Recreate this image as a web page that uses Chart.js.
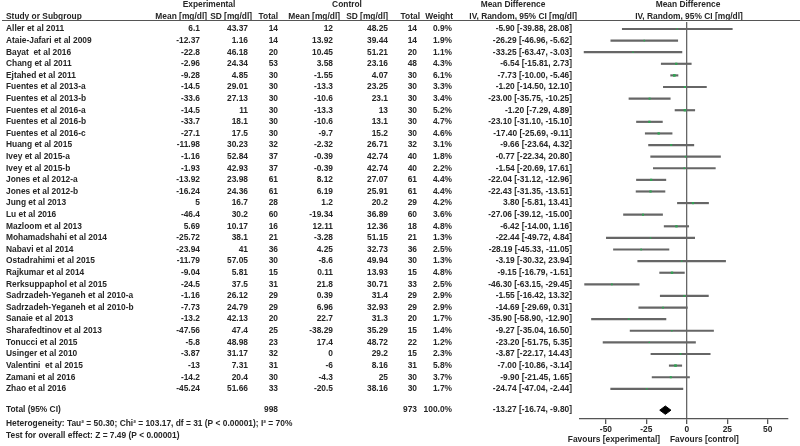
<!DOCTYPE html>
<html>
<head>
<meta charset="utf-8">
<script src="https://cdn.jsdelivr.net/npm/chart.js@4.4.1/dist/chart.umd.min.js"></script>
<style>
  html, body { margin: 0; padding: 0; background: #fff; }
  #wrap { width: 800px; height: 446px; }
</style>
</head>
<body>
<div id="wrap"><canvas id="forest" width="800" height="446"></canvas></div>
<script>
const studies = [
  "Aller et al 2011", "Ataie-Jafari et al 2009", "Bayat  et al 2016", "Chang et al 2011",
  "Ejtahed et al 2011", "Fuentes et al 2013-a", "Fuentes et al 2013-b", "Fuentes et al 2016-a",
  "Fuentes et al 2016-b", "Fuentes et al 2016-c", "Huang et al 2015", "Ivey et al 2015-a",
  "Ivey et al 2015-b", "Jones et al 2012-a", "Jones et al 2012-b", "Jung et al 2013",
  "Lu et al 2016", "Mazloom et al 2013", "Mohamadshahi et al 2014", "Nabavi et al 2014",
  "Ostadrahimi et al 2015", "Rajkumar et al 2014", "Rerksuppaphol et al 2015",
  "Sadrzadeh-Yeganeh et al 2010-a", "Sadrzadeh-Yeganeh et al 2010-b", "Sanaie et al 2013",
  "Sharafedtinov et al 2013", "Tonucci et al 2015", "Usinger et al 2010", "Valentini  et al 2015",
  "Zamani et al 2016", "Zhao et al 2016"
];
const expMean = [6.1, -12.37, -22.8, -2.96, -9.28, -14.5, -33.6, -14.5, -33.7, -27.1, -11.98, -1.16, -1.93, -13.92, -16.24, 5, -46.4, 5.69, -25.72, -23.94, -11.79, -9.04, -24.5, -1.16, -7.73, -13.2, -47.56, -5.8, -3.87, -13, -14.2, -45.24];
const expSD = [43.37, 1.16, 46.18, 24.34, 4.85, 29.01, 27.13, 11, 18.1, 17.5, 30.23, 52.84, 42.93, 23.98, 24.36, 16.7, 30.2, 10.17, 38.1, 41, 57.05, 5.81, 37.5, 26.12, 24.79, 42.13, 47.4, 48.98, 31.17, 7.31, 20.4, 51.66];
const expN = [14, 14, 20, 53, 30, 30, 30, 30, 30, 30, 32, 37, 37, 61, 61, 28, 60, 16, 21, 36, 30, 15, 31, 29, 29, 20, 25, 23, 32, 31, 30, 33];
const ctlMean = [12, 13.92, 10.45, 3.58, -1.55, -13.3, -10.6, -13.3, -10.6, -9.7, -2.32, -0.39, -0.39, 8.12, 6.19, 1.2, -19.34, 12.11, -3.28, 4.25, -8.6, 0.11, 21.8, 0.39, 6.96, 22.7, -38.29, 17.4, 0, -6, -4.3, -20.5];
const ctlSD = [48.25, 39.44, 51.21, 23.16, 4.07, 23.25, 23.1, 13, 13.1, 15.2, 26.71, 42.74, 42.74, 27.07, 25.91, 20.2, 36.89, 12.36, 51.15, 32.73, 49.94, 13.93, 30.71, 31.4, 32.93, 31.3, 35.29, 48.72, 29.2, 8.16, 25, 38.16];
const ctlN = [14, 14, 20, 48, 30, 30, 30, 30, 30, 30, 32, 40, 40, 61, 61, 29, 60, 18, 21, 36, 30, 15, 33, 29, 29, 20, 15, 22, 15, 31, 30, 30];
const weight = [0.9, 1.9, 1.1, 4.3, 6.1, 3.3, 3.4, 5.2, 4.7, 4.6, 3.1, 1.8, 2.2, 4.4, 4.4, 4.2, 3.6, 4.8, 1.3, 2.5, 1.3, 4.8, 2.5, 2.9, 2.9, 1.7, 1.4, 1.2, 2.3, 5.8, 3.7, 1.7];
const md = [-5.90, -26.29, -33.25, -6.54, -7.73, -1.20, -23.00, -1.20, -23.10, -17.40, -9.66, -0.77, -1.54, -22.04, -22.43, 3.80, -27.06, -6.42, -22.44, -28.19, -3.19, -9.15, -46.30, -1.55, -14.69, -35.90, -9.27, -23.20, -3.87, -7.00, -9.90, -24.74];
const ciLow = [-39.88, -46.96, -63.47, -15.81, -10.00, -14.50, -35.75, -7.29, -31.10, -25.69, -23.64, -22.34, -20.69, -31.12, -31.35, -5.81, -39.12, -14.00, -49.72, -45.33, -30.32, -16.79, -63.15, -16.42, -29.69, -58.90, -35.04, -51.75, -22.17, -10.86, -21.45, -47.04];
const ciHigh = [28.08, -5.62, -3.03, 2.73, -5.46, 12.10, -10.25, 4.89, -15.10, -9.11, 4.32, 20.80, 17.61, -12.96, -13.51, 13.41, -15.00, 1.16, 4.84, -11.05, 23.94, -1.51, -29.45, 13.32, 0.31, -12.90, 16.50, 5.35, 14.43, -3.14, 1.65, -2.44];

const totalExp = 998;
const totalCtl = 973;
const totalWeight = 100.0;
const pooled = [-13.27, -16.74, -9.80];
const xTicks = [-50, -25, 0, 25, 50];
const heterogeneity = "Heterogeneity: Tau\u00b2 = 50.30; Chi\u00b2 = 103.17, df = 31 (P < 0.00001); I\u00b2 = 70%";
const overallTest = "Test for overall effect: Z = 7.49 (P < 0.00001)";

const totalRow = studies.length + 0.84;
const FONT = "bold 8.4px 'Liberation Sans', Arial, sans-serif";
const TEXT = "#262626";
const LINE = "#666";

const fmt2 = (v) => v.toFixed(2);
const ciText = (m, l, h) => fmt2(m) + " [" + fmt2(l) + ", " + fmt2(h) + "]";

const tablePlugin = {
  id: "table",
  afterDraw(chart) {
    const ctx = chart.ctx;
    const y = chart.scales.y;
    ctx.save();
    ctx.font = FONT;
    ctx.fillStyle = TEXT;
    ctx.textBaseline = "middle";

    const put = (txt, x, yy, align) => {
      ctx.textAlign = align;
      ctx.fillText(String(txt), x, yy);
    };

    // column headers
    put("Experimental", 209, 5, "center");
    put("Control", 347, 5, "center");
    put("Mean Difference", 513, 5, "center");
    put("Mean Difference", 688, 5, "center");
    put("Study or Subgroup", 6, 16.5, "left");
    put("Mean [mg/dl]", 207, 16.5, "right");
    put("SD [mg/dl]", 252, 16.5, "right");
    put("Total", 278, 16.5, "right");
    put("Mean [mg/dl]", 340, 16.5, "right");
    put("SD [mg/dl]", 388, 16.5, "right");
    put("Total", 420, 16.5, "right");
    put("Weight", 453, 16.5, "right");
    put("IV, Random, 95% CI [mg/dl]", 577, 16.5, "right");
    put("IV, Random, 95% CI [mg/dl]", 689, 16.5, "center");

    ctx.strokeStyle = "#555";
    ctx.lineWidth = 1.2;
    ctx.beginPath();
    ctx.moveTo(2, 20.5);
    ctx.lineTo(800, 20.5);
    ctx.stroke();

    studies.forEach((s, i) => {
      const yy = y.getPixelForValue(i);
      put(s, 6, yy, "left");
      put(expMean[i], 200, yy, "right");
      put(expSD[i], 248, yy, "right");
      put(expN[i], 278, yy, "right");
      put(ctlMean[i], 333, yy, "right");
      put(ctlSD[i], 388, yy, "right");
      put(ctlN[i], 417, yy, "right");
      put(weight[i].toFixed(1) + "%", 452, yy, "right");
      put(ciText(md[i], ciLow[i], ciHigh[i]), 572, yy, "right");
    });

    const ty = y.getPixelForValue(totalRow);
    put("Total (95% CI)", 6, ty, "left");
    put(totalExp, 278, ty, "right");
    put(totalCtl, 417, ty, "right");
    put(totalWeight.toFixed(1) + "%", 452, ty, "right");
    put(ciText(pooled[0], pooled[1], pooled[2]), 572, ty, "right");
    put(heterogeneity, 6, 424, "left");
    put(overallTest, 6, 436, "left");

    put("Favours [experimental]", 660, 439.5, "right");
    put("Favours [control]", 670, 439.5, "left");
    ctx.restore();
  }
};

const diamondH = 0.36;
const diamond = [
  { x: pooled[1], y: totalRow },
  { x: pooled[0], y: totalRow - diamondH },
  { x: pooled[2], y: totalRow },
  { x: pooled[0], y: totalRow + diamondH },
  { x: pooled[1], y: totalRow }
];

new Chart(document.getElementById("forest"), {
  type: "scatter",
  data: {
    datasets: [
      {
        type: "bar",
        indexAxis: "y",
        order: 3,
        data: studies.map((s, i) => ({ x: [ciLow[i], ciHigh[i]], y: i })),
        backgroundColor: LINE,
        barThickness: 1.5,
        grouped: false,
        borderWidth: 0
      },
      {
        type: "scatter",
        order: 1,
        data: studies.map((s, i) => ({ x: md[i], y: i })),
        pointStyle: "rect",
        pointRadius: (c) => 0.8 + weight[c.dataIndex] * 0.18,
        backgroundColor: "#2fa352",
        borderColor: "#2fa352",
        borderWidth: 0
      },
      {
        type: "scatter",
        order: 0,
        data: diamond,
        showLine: true,
        fill: "shape",
        tension: 0,
        pointRadius: 0,
        borderColor: "#000",
        backgroundColor: "#000",
        borderWidth: 1
      }
    ]
  },
  options: {
    responsive: false,
    animation: false,
    layout: { padding: { left: 580, right: 12, top: 22, bottom: 0 } },
    plugins: { legend: { display: false }, tooltip: { enabled: false } },
    scales: {
      x: {
        type: "linear",
        min: -66,
        max: 62.5,
        offset: false,
        afterBuildTicks: (s) => { s.ticks = xTicks.map((v) => ({ value: v })); },
        afterFit: (s) => { s.height = 27; },
        border: { display: true, color: "#555", width: 1.3 },
        grid: {
          offset: false,
          drawOnChartArea: true,
          color: (c) => (c.tick && c.tick.value === 0 ? "#666" : "rgba(0,0,0,0)"),
          lineWidth: 1.3,
          tickColor: "#555",
          tickLength: 5
        },
        ticks: {
          color: TEXT,
          font: { family: "'Liberation Sans', Arial, sans-serif", size: 8.4, weight: "bold" },
          padding: 1,
          maxRotation: 0
        }
      },
      y: {
        type: "linear",
        display: false,
        reverse: true,
        offset: false,
        min: -0.6,
        max: 33.6
      }
    }
  },
  plugins: [tablePlugin]
});
</script>
</body>
</html>
